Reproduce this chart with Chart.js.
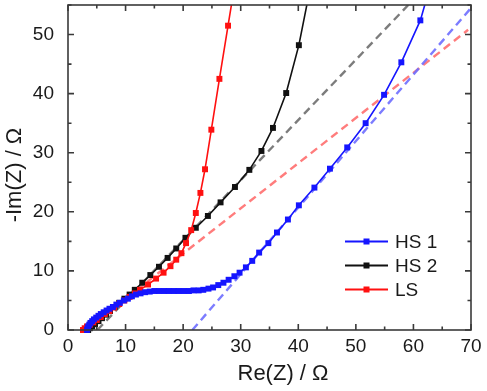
<!DOCTYPE html>
<html>
<head>
<meta charset="utf-8">
<script src="https://cdn.jsdelivr.net/npm/chart.js@4.4.1/dist/chart.umd.min.js"></script>
<style>
  html, body { margin: 0; padding: 0; background: #fff; }
  #wrap { width: 487px; height: 391px; }
</style>
</head>
<body>
<div id="wrap"><canvas id="chart" width="487" height="391"></canvas></div>
<script>
// tick labels
const xTicks = [0, 10, 20, 30, 40, 50, 60, 70];
const yTicks = [0, 10, 20, 30, 40, 50];

// HS 1 (blue)
const hs1X = [3.3, 3.4, 3.5, 3.7, 3.9, 4.2, 4.5, 4.9, 5.3, 5.7, 6.2, 6.7, 7.2, 7.8, 8.4, 9.0, 9.7, 10.4, 11.1, 11.8,
  12.6, 13.4, 14.2, 15.0, 15.8, 16.7, 17.5, 18.4, 19.2, 20.1, 21.0, 21.8, 22.7, 23.5, 24.4, 25.2, 26.1, 27.0, 27.9,
  28.9, 29.8, 30.9, 32.0, 33.2, 34.8, 36.3, 38.2, 40.1, 42.8, 45.5, 48.5, 51.7, 54.9, 57.9, 61.2, 63.6];
const hs1Y = [0.0, 0.3, 0.6, 0.9, 1.2, 1.5, 1.8, 2.1, 2.4, 2.7, 3.0, 3.3, 3.6, 3.9, 4.3, 4.6, 5.0, 5.3, 5.7, 6.0,
  6.2, 6.4, 6.5, 6.6, 6.6, 6.6, 6.6, 6.6, 6.6, 6.6, 6.6, 6.7, 6.7, 6.8, 7.0, 7.2, 7.6, 8.0, 8.5,
  9.1, 9.7, 10.6, 11.7, 13.1, 14.7, 16.5, 18.7, 21.1, 24.1, 27.3, 30.9, 35.0, 39.8, 45.3, 52.4, 60.5];

// HS 2 (black)
const hs2X = [3.5, 3.8, 4.2, 4.7, 5.3, 5.9, 6.6, 7.3, 8.1, 8.9, 9.8, 10.7, 11.6, 12.9, 14.3, 15.8, 17.3, 18.8,
  20.4, 22.2, 24.3, 26.5, 29.0, 31.5, 33.6, 35.6, 37.9, 40.1, 42.5];
const hs2Y = [0.0, 0.3, 0.6, 1.0, 1.5, 2.0, 2.6, 3.2, 3.9, 4.6, 5.3, 6.0, 6.8, 8.0, 9.3, 10.7, 12.2, 13.8,
  15.6, 17.3, 19.3, 21.6, 24.2, 27.1, 30.3, 34.2, 40.1, 48.2, 60.0];

// LS (red)
const lsX = [2.6, 2.9, 3.3, 3.8, 4.4, 5.0, 5.7, 6.4, 7.2, 8.0, 8.9, 9.8, 10.7, 11.6, 12.5, 13.9, 15.3, 16.6,
  17.8, 18.8, 19.7, 20.5, 21.4, 22.2, 23.0, 23.8, 24.9, 26.3, 27.8, 29.3];
const lsY = [0.0, 0.3, 0.6, 0.9, 1.3, 1.7, 2.2, 2.7, 3.2, 3.8, 4.4, 5.0, 5.6, 6.2, 6.8, 7.7, 8.7, 9.7,
  10.8, 11.9, 13.0, 14.7, 16.9, 19.8, 23.2, 27.2, 33.9, 42.5, 51.5, 60.5];

// dashed guide lines (end points)
const guideGrayX = [5.1, 59.1];
const guideGrayY = [0, 55];
const guideRedX = [3.1, 69.5];
const guideRedY = [0, 50.8];
const guideBlueX = [21.6, 70];
const guideBlueY = [0, 54.5];

const FONT = "'Liberation Sans', Arial, sans-serif";

const pts = (xs, ys) => xs.map((x, i) => ({ x: x, y: ys[i] }));

const series = function (label, xs, ys, color) {
    return {
        label: label,
        data: pts(xs, ys),
        borderColor: color,
        backgroundColor: color,
        borderWidth: 1.6,
        pointStyle: 'rect',
        pointRadius: 4.2,
        pointBorderWidth: 0,
        showLine: true,
        clip: { left: 6, right: 6, top: 0, bottom: 6 }
    };
};

const guide = function (xs, ys, color) {
    return {
        label: '',
        data: pts(xs, ys),
        borderColor: color,
        borderWidth: 2.4,
        borderDash: [8, 5],
        pointRadius: 0,
        showLine: true,
        clip: 0
    };
};

// legend entries in display order
const legendItems = [
    { label: 'HS 1', color: '#1515ff' },
    { label: 'HS 2', color: '#111111' },
    { label: 'LS', color: '#ff1010' }
];

const frame = {
    id: 'frame',
    afterDatasetsDraw(chart) {
        const ctx = chart.ctx;
        const a = chart.chartArea;
        const xs = chart.scales.x;
        const ys = chart.scales.y;
        ctx.save();
        ctx.strokeStyle = '#3a3a3a';
        ctx.lineWidth = 1.6;
        ctx.strokeRect(a.left, a.top, a.right - a.left, a.bottom - a.top);
        ctx.beginPath();
        for (let v = 0; v <= 70; v += 5) {
            const px = xs.getPixelForValue(v);
            const len = v % 10 === 0 ? 6 : 3.5;
            ctx.moveTo(px, a.bottom); ctx.lineTo(px, a.bottom - len);
            ctx.moveTo(px, a.top); ctx.lineTo(px, a.top + len);
        }
        for (let v = 0; v <= 55; v += 5) {
            const py = ys.getPixelForValue(v);
            const len = v % 10 === 0 ? 6 : 3.5;
            ctx.moveTo(a.left, py); ctx.lineTo(a.left + len, py);
            ctx.moveTo(a.right, py); ctx.lineTo(a.right - len, py);
        }
        ctx.stroke();

        // legend
        ctx.font = '19px ' + FONT;
        ctx.textBaseline = 'middle';
        ctx.textAlign = 'left';
        legendItems.forEach((it, i) => {
            const y = 241.5 + i * 24;
            ctx.strokeStyle = it.color;
            ctx.fillStyle = it.color;
            ctx.lineWidth = 1.8;
            ctx.beginPath();
            ctx.moveTo(345, y); ctx.lineTo(388, y);
            ctx.stroke();
            ctx.fillRect(366.5 - 3, y - 3, 6, 6);
            ctx.fillStyle = '#1a1a1a';
            ctx.fillText(it.label, 395, y + 1);
        });

        // axis titles
        ctx.fillStyle = '#1a1a1a';
        ctx.font = '22px ' + FONT;
        ctx.textAlign = 'center';
        ctx.textBaseline = 'alphabetic';
        ctx.fillText('Re(Z) / Ω', 283, 380);
        ctx.translate(21, 175);
        ctx.rotate(-Math.PI / 2);
        ctx.fillText('-Im(Z) / Ω', 0, 0);
        ctx.restore();
    }
};

const ctx = document.getElementById('chart').getContext('2d');
const chart = new Chart(ctx, {
    type: 'scatter',
    data: {
        datasets: [
            series('HS 1', hs1X, hs1Y, '#1515ff'),
            series('LS', lsX, lsY, '#ff1010'),
            series('HS 2', hs2X, hs2Y, '#111111'),
            guide(guideBlueX, guideBlueY, 'rgba(110,110,255,0.9)'),
            guide(guideRedX, guideRedY, 'rgba(255,110,110,0.9)'),
            guide(guideGrayX, guideGrayY, 'rgba(110,110,110,0.9)')
        ]
    },
    options: {
        responsive: false,
        animation: false,
        devicePixelRatio: 1,
        layout: { padding: { top: 5, right: 16, left: 0, bottom: 0 } },
        plugins: {
            legend: { display: false },
            tooltip: { enabled: false }
        },
        scales: {
            x: {
                type: 'linear',
                min: 0,
                max: 70,
                grid: { display: false },
                border: { display: false },
                afterBuildTicks: (s) => { s.ticks = xTicks.map(v => ({ value: v })); },
                afterFit: (s) => { s.height = 61; s.paddingLeft = 0; s.paddingRight = 0; },
                ticks: {
                    padding: -3,
                    color: '#1a1a1a',
                    font: { family: FONT, size: 19 },
                    maxRotation: 0
                }
            },
            y: {
                type: 'linear',
                min: 0,
                max: 55,
                grid: { display: false },
                border: { display: false },
                afterBuildTicks: (s) => { s.ticks = yTicks.map(v => ({ value: v })); },
                afterFit: (s) => { s.width = 68; s.paddingTop = 0; s.paddingBottom = 0; },
                ticks: {
                    padding: 6,
                    color: '#1a1a1a',
                    font: { family: FONT, size: 19 }
                }
            }
        }
    },
    plugins: [frame]
});
</script>
</body>
</html>
